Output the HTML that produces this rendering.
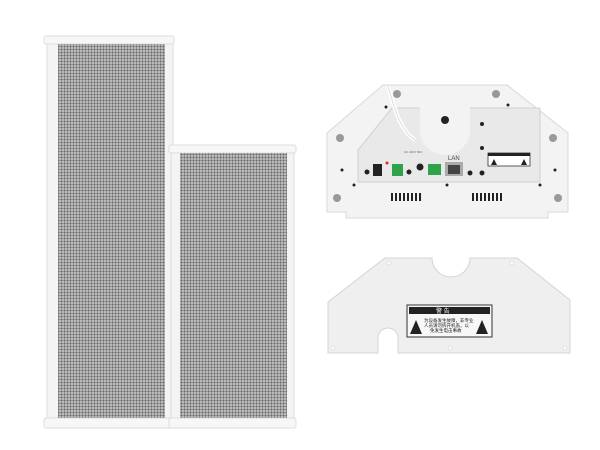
<!DOCTYPE html>
<html><head><meta charset="utf-8"><style>
html,body{margin:0;padding:0;background:#fff;}
svg{display:block;}
</style></head><body>
<svg width="600" height="450" viewBox="0 0 600 450" xmlns="http://www.w3.org/2000/svg" font-family="Liberation Sans, Noto Sans CJK SC, sans-serif">
<defs>
<pattern id="g" width="3" height="3" patternUnits="userSpaceOnUse">
<rect width="3" height="3" fill="#c6c6c6"/>
<circle cx="1.5" cy="1.5" r="1.1" fill="#686868"/>
</pattern>
</defs>
<!-- tall speaker -->
<rect x="47" y="38" width="126" height="390" fill="#f4f4f4" stroke="#ddd"/>
<rect x="44" y="36" width="130" height="8" rx="2" fill="#f7f7f7" stroke="#ddd"/>
<rect x="44" y="418" width="130" height="10" rx="2" fill="#f7f7f7" stroke="#ddd"/>
<rect x="58" y="44" width="107" height="374" fill="url(#g)"/>
<!-- short speaker -->
<rect x="171" y="147" width="123" height="281" fill="#f4f4f4" stroke="#ddd"/>
<rect x="169" y="145" width="127" height="8" rx="2" fill="#f7f7f7" stroke="#ddd"/>
<rect x="169" y="418" width="127" height="10" rx="2" fill="#f7f7f7" stroke="#ddd"/>
<rect x="180" y="153" width="107" height="265" fill="url(#g)"/>
<!-- device -->
<polygon points="383,85 507,85 568,133 568,212 548,212 548,218 346,218 346,212 327,212 327,133" fill="#f3f3f3" stroke="#d8d8d8"/>
<polygon points="358,182 358,150 392,108 540,108 540,182" fill="#e9e9e9" stroke="#d0d0d0"/>
<path d="M420,100 L470,100 L470,130 A25,25 0 0 1 420,130 Z" fill="#f3f3f3"/>
<circle cx="445" cy="120" r="4" fill="#222"/>
<path d="M388,86 C395,110 400,130 415,140" stroke="#fff" stroke-width="4" fill="none"/>
<path d="M388,86 C395,110 400,130 415,140" stroke="#ddd" stroke-width="1" fill="none"/>
<g fill="#999"><circle cx="397" cy="94" r="4"/><circle cx="496" cy="94" r="4"/><circle cx="340" cy="138" r="4"/><circle cx="553" cy="138" r="4"/><circle cx="337" cy="198" r="4"/><circle cx="558" cy="198" r="4"/></g>
<g fill="#222"><circle cx="386" cy="107" r="1.5"/><circle cx="508" cy="105" r="1.5"/><circle cx="342" cy="170" r="1.5"/><circle cx="555" cy="170" r="1.5"/><circle cx="354" cy="185" r="1.5"/><circle cx="447" cy="185" r="1.5"/><circle cx="540" cy="185" r="1.5"/>
<circle cx="482" cy="124" r="2"/><circle cx="482" cy="148" r="2"/><circle cx="367" cy="172" r="2.5"/><circle cx="409" cy="172" r="2.5"/><circle cx="420" cy="167" r="3.5"/><circle cx="470" cy="173" r="2.5"/><circle cx="482" cy="173" r="2.5"/></g>
<rect x="373" y="164" width="9" height="12" fill="#222"/>
<rect x="392" y="164" width="11" height="12" fill="#2fa34a"/>
<rect x="428" y="164" width="13" height="11" fill="#2fa34a"/>
<rect x="445" y="162" width="18" height="14" fill="#aaa"/><rect x="448" y="165" width="12" height="9" fill="#444"/>
<circle cx="387" cy="163" r="1.5" fill="#e22"/>
<text x="448" y="160" font-size="6" fill="#444">LAN</text>
<text x="404" y="153" font-size="3" fill="#666">AC 220V 50C</text>
<rect x="488" y="153" width="42" height="13" fill="#fff" stroke="#333" stroke-width="0.8"/>
<rect x="488" y="153" width="42" height="3" fill="#222"/>
<polygon points="491,165 494,159 497,165" fill="#222"/><polygon points="521,165 524,159 527,165" fill="#222"/>
<g fill="#222">
<rect x="391" y="193" width="2" height="8"/><rect x="395" y="193" width="2" height="8"/><rect x="399" y="193" width="2" height="8"/><rect x="403" y="193" width="2" height="8"/><rect x="407" y="193" width="2" height="8"/><rect x="411" y="193" width="2" height="8"/><rect x="415" y="193" width="2" height="8"/><rect x="419" y="193" width="2" height="8"/>
<rect x="472" y="193" width="2" height="8"/><rect x="476" y="193" width="2" height="8"/><rect x="480" y="193" width="2" height="8"/><rect x="484" y="193" width="2" height="8"/><rect x="488" y="193" width="2" height="8"/><rect x="492" y="193" width="2" height="8"/><rect x="496" y="193" width="2" height="8"/><rect x="500" y="193" width="2" height="8"/>
</g>
<!-- plate -->
<path d="M385,258 L432,258 A19,19 0 0 0 470,258 L517,258 L570,300 L570,353 L398,353 L398,338 A10,10 0 0 0 378,338 L378,353 L328,353 L328,302 Z" fill="#efefef" stroke="#d4d4d4"/>
<g fill="#fff" stroke="#ccc" stroke-width="0.5"><circle cx="389" cy="263" r="2"/><circle cx="512" cy="263" r="2"/><circle cx="333" cy="348" r="2"/><circle cx="450" cy="348" r="2"/><circle cx="565" cy="348" r="2"/></g>
<rect x="407" y="305" width="85" height="32" fill="#f7f7f7" stroke="#333"/>
<rect x="409" y="307" width="81" height="7" fill="#222"/>
<text x="436" y="313" font-size="6" fill="#fff">警    告</text>
<polygon points="410,334 416,320 422,334" fill="#222"/><polygon points="476,334 482,320 488,334" fill="#222"/>
<text x="424" y="322" font-size="4.5" fill="#222">为设备发生故障，非专业</text>
<text x="424" y="327" font-size="4.5" fill="#222">人员请勿拆开机盖，以</text>
<text x="430" y="332" font-size="4.5" fill="#222">免发生电击事故</text>
</svg>
</body></html>
